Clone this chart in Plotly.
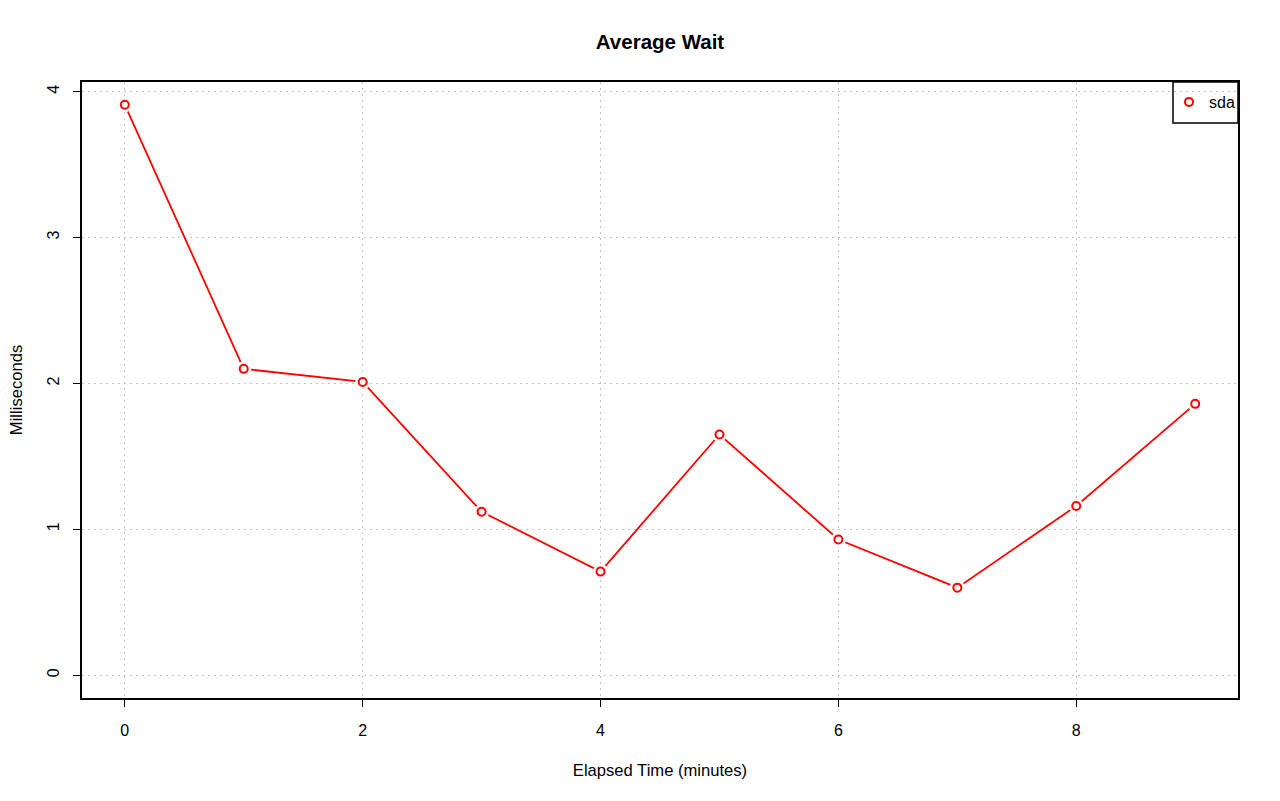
import plotly.graph_objects as go

minutes = [0, 1, 2, 3, 4, 5, 6, 7, 8, 9]
sda_ms = [3.91, 2.10, 2.01, 1.12, 0.71, 1.65, 0.93, 0.60, 1.16, 1.86]
x_ticks = [0, 2, 4, 6, 8]
y_ticks = [0, 1, 2, 3, 4]

FONT = "Liberation Sans, Arial, Helvetica, sans-serif"
RED = "#ff0000"

fig = go.Figure()
fig.add_trace(go.Scatter(x=minutes, y=sda_ms, mode="lines",
                         line=dict(color=RED, width=1.8), showlegend=False, hoverinfo="skip"))
fig.add_trace(go.Scatter(x=minutes, y=sda_ms, mode="markers",
                         marker=dict(symbol="circle", size=15, color="white", line=dict(width=0)),
                         showlegend=False, hoverinfo="skip"))
fig.add_trace(go.Scatter(x=minutes, y=sda_ms, mode="markers", name="sda",
                         marker=dict(symbol="circle-open", size=8, color=RED, line=dict(width=2, color=RED))))

axis_common = dict(showline=True, linecolor="black", linewidth=1.5, mirror=True,
                   ticks="outside", ticklen=7, tickcolor="black", tickwidth=1,
                   showgrid=True, gridcolor="#c4c4c4", griddash="1.5px,4.5px", gridwidth=1.3,
                   zeroline=False, automargin=False,
                   tickfont=dict(family=FONT, size=16, color="black"))

L, R, T, B = 82, 1238, 82, 698
pw, ph = R - L, B - T

fig.update_layout(
    width=1280, height=801,
    margin=dict(l=L, r=1280 - R, t=T, b=801 - B, autoexpand=False),
    plot_bgcolor="white", paper_bgcolor="white",
    title=dict(text="<b>Average Wait</b>", x=(L + R) / 2 / 1280, xanchor="center",
               y=1 - 42 / 801, yanchor="middle", font=dict(family=FONT, size=20.5, color="black")),
    xaxis=dict(range=[-0.36, 9.36], tickvals=x_ticks, ticktext=[str(v) for v in x_ticks],
               title=dict(text="Elapsed Time (minutes)", font=dict(family=FONT, size=16.6, color="black"), standoff=26),
               ticklabelstandoff=10, **axis_common),
    yaxis=dict(range=[-0.1564, 4.0664], tickvals=y_ticks, ticktext=[str(v) for v in y_ticks],
               tickangle=-90,
               title=dict(text="Milliseconds", font=dict(family=FONT, size=16.6, color="black"), standoff=18),
               ticklabelstandoff=8, **axis_common),
    legend=dict(x=(1169 - L) / pw, y=1 - 3 / ph, xanchor="left", yanchor="top", bgcolor="rgba(0,0,0,0)",
                borderwidth=0, font=dict(family=FONT, size=16, color="black"), itemwidth=30),
    shapes=[dict(type="rect", xref="paper", yref="paper",
                 x0=(1173 - L) / pw, x1=1, y0=1 - (123 - T) / ph, y1=1,
                 line=dict(color="black", width=1.5), fillcolor="white", layer="below")],
)

fig.write_html("out.html", config={"displayModeBar": False},
               post_script="document.body.style.margin='0';document.body.style.padding='0';")
